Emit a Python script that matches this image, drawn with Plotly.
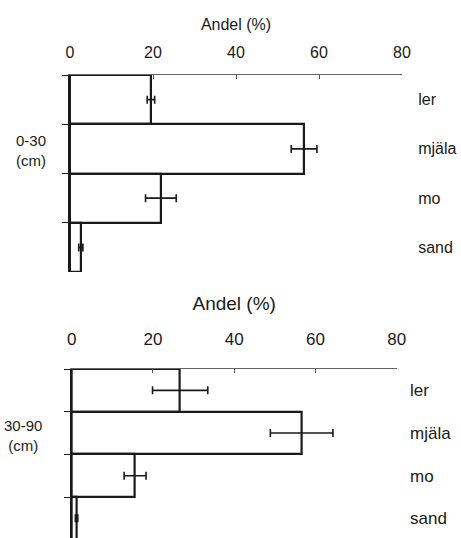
import plotly.graph_objects as go

categories = ["ler", "mjäla", "mo", "sand"]
top_values = [19.5, 56.4, 21.9, 2.6]
top_errors = [0.9, 3.1, 3.7, 0.5]
bottom_values = [26.7, 56.6, 15.6, 1.2]
bottom_errors = [6.8, 7.7, 2.7, 0.3]
x_ticks = [0, 20, 40, 60, 80]
depth_labels = ["0-30<br>(cm)", "30-90<br>(cm)"]
axis_title = "Andel (%)"

W, H = 461, 538
FONT = "Liberation Sans, Arial, sans-serif"
INK = "#1a1a1a"

fig = go.Figure()


def add_panel(values, errors, xa, ya, ya_lab):
    fig.add_trace(go.Bar(
        x=values, y=categories, orientation="h",
        xaxis=xa, yaxis=ya,
        marker=dict(color="white", line=dict(color=INK, width=2.2)),
        error_x=dict(type="data", array=errors, visible=True,
                     color=INK, thickness=1.6, width=4),
        showlegend=False, hoverinfo="skip",
    ))
    fig.add_trace(go.Scatter(
        x=values, y=categories, xaxis=xa, yaxis=ya_lab,
        mode="markers", marker=dict(opacity=0, size=1),
        showlegend=False, hoverinfo="skip",
    ))


add_panel(top_values, top_errors, "x", "y", "y3")
add_panel(bottom_values, bottom_errors, "x2", "y2", "y4")


def xaxis_cfg(domain, anchor, tsize, title_size, standoff, lab_standoff):
    return dict(
        domain=domain, anchor=anchor, side="top", range=[0, 80],
        tickvals=x_ticks, ticks="inside", ticklen=4, tickcolor="#555",
        ticklabelstandoff=lab_standoff,
        showline=True, linecolor="#666", linewidth=1,
        showgrid=False, zeroline=False, automargin=False,
        tickfont=dict(family=FONT, size=tsize, color=INK),
        title=dict(text=axis_title, font=dict(family=FONT, size=title_size, color=INK),
                   standoff=standoff),
    )


def yaxis_cfg(domain, anchor, rng):
    return dict(
        domain=domain, anchor=anchor, type="category",
        categoryorder="array", categoryarray=categories, range=rng,
        tickson="boundaries", ticks="outside", ticklen=6, tickcolor=INK,
        showticklabels=False, showline=True, linecolor=INK, linewidth=1.5,
        showgrid=False, zeroline=False, automargin=False,
    )


def ylab_cfg(over, anchor, rng, size, gap):
    return dict(
        overlaying=over, anchor=anchor, side="right", type="category",
        categoryorder="array", categoryarray=categories, range=rng,
        ticks="outside", ticklen=gap, tickcolor="rgba(0,0,0,0)",
        showline=False, showgrid=False, zeroline=False, automargin=False,
        tickfont=dict(family=FONT, size=size, color=INK),
    )


top_dom = [(H - 272) / H, (H - 75) / H]
bot_dom = [0, (H - 369) / H]
top_rng = [3.5, -0.5]
bot_rng = [3.46, -0.5]

fig.update_layout(
    width=W, height=H,
    margin=dict(l=0, r=0, t=0, b=0),
    paper_bgcolor="white", plot_bgcolor="rgba(0,0,0,0)",
    bargap=0,
    xaxis=xaxis_cfg([70 / W, 402 / W], "y", 16, 16, 8, 10),
    xaxis2=xaxis_cfg([71.7 / W, 396.7 / W], "y2", 17, 19, 14, 16),
    yaxis=yaxis_cfg(top_dom, "x", top_rng),
    yaxis2=yaxis_cfg(bot_dom, "x2", bot_rng),
    yaxis3=ylab_cfg("y", "x", top_rng, 16, 12),
    yaxis4=ylab_cfg("y2", "x2", bot_rng, 17, 9),
    annotations=[
        dict(text=depth_labels[0], x=31 / W, y=(H - 150) / H, xref="paper", yref="paper",
             xanchor="center", yanchor="middle",
             showarrow=False, font=dict(family=FONT, size=15, color=INK), align="center"),
        dict(text=depth_labels[1], x=23 / W, y=(H - 436) / H, xref="paper", yref="paper",
             xanchor="center", yanchor="middle",
             showarrow=False, font=dict(family=FONT, size=15, color=INK), align="center"),
    ],
)

fig.write_html("out.html")
